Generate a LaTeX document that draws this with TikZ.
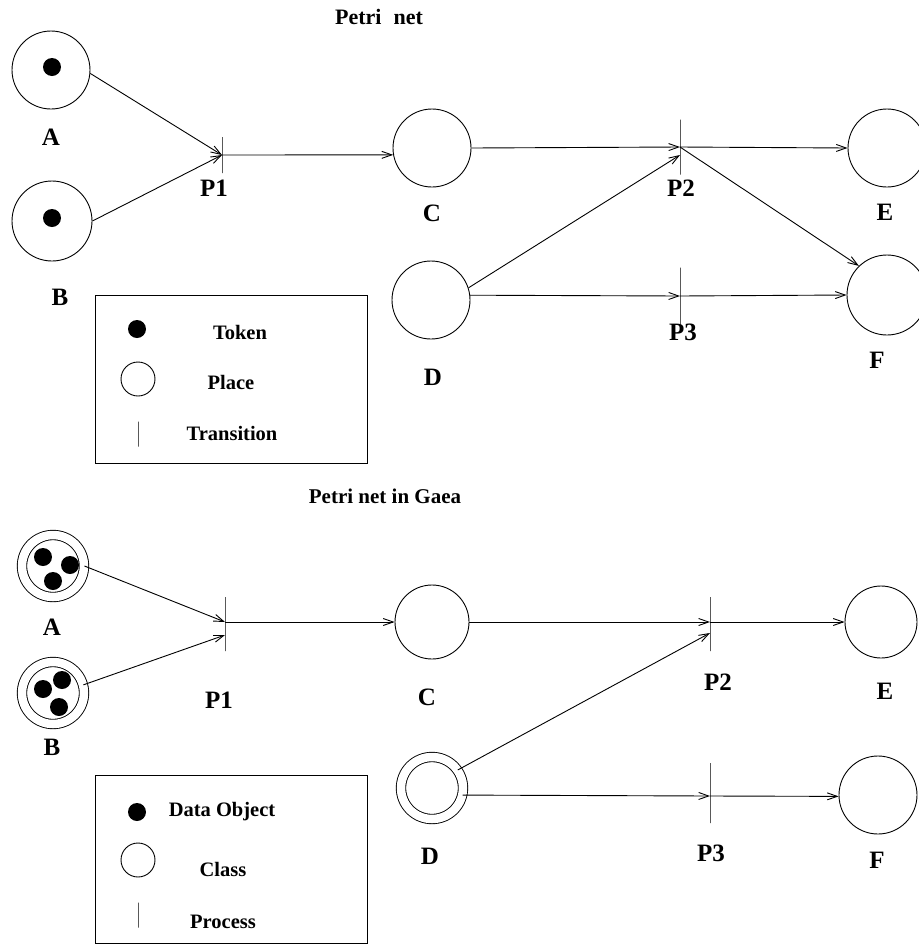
\documentclass[tikz,border=0pt]{standalone}
\usepackage{fontspec}
\setmainfont{Liberation Serif}
\usetikzlibrary{arrows.meta}

\begin{document}
\begin{tikzpicture}[x=1pt,y=-1pt,line width=0.9pt,
    >={Straight Barb[length=10pt,width=7pt]},
    place/.style={draw,circle,inner sep=0pt,minimum size=#1},
    place/.default=78pt,
    class/.style={draw,circle,inner sep=0pt,double,double distance=8.5pt,minimum size=#1},
    class/.default=62pt,
    token/.style={fill,circle,inner sep=0pt,minimum size=18pt},
    trans/.style={draw,inner sep=0pt,minimum width=0pt,minimum height=#1},
    trans/.default=55pt,
    lbl/.style={font=\fontsize{25}{25}\selectfont\bfseries},
    title/.style={font=\fontsize{22}{22}\selectfont\bfseries},
    key/.style={font=\fontsize{20.5}{20.5}\selectfont\bfseries}]
    \useasboundingbox (0,0) rectangle (919,946);

    % Petri net
    \path (379,17) node [title] (hd) {Petri\hspace{12pt}net};
    \path (51,70) node [place] (pa) {};
    \path (52,67) node [token] (ka) {};
    \path (51,137) node [lbl] (la) {A};
    \path (52,221) node [place=80pt] (pb) {};
    \path (52,218) node [token] (kb) {};
    \path (60,297) node [lbl] (lb) {B};
    \path (222,155) node [trans=36pt] (t1) {};
    \path (214,188) node [lbl] (l1) {P1};
    \path (432,148) node [place] (pc) {};
    \path (432,213) node [lbl] (lc) {C};
    \path (680,147) node [trans] (t2) {};
    \path (681,188) node [lbl] (l2) {P2};
    \path (887,148) node [place] (pe) {};
    \path (885,212) node [lbl] (le) {E};
    \path (431,300) node [place] (pd) {};
    \path (433,377) node [lbl] (ld) {D};
    \path (680,296) node [trans=57pt] (t3) {};
    \path (683,332) node [lbl] (l3) {P3};
    \path (887,295) node [place=80pt] (pf) {};
    \path (877,360) node [lbl] (lf) {F};

    \draw [->] (pa.-5) -- (t1.center);
    \draw [->] (pb.east) -- (t1.center);
    \draw [->] (t1.center) -- (pc.190);
    \draw [->] (pc.east) -- (t2.center);
    \draw [->] (t2.center) -- (pe.west);
    \draw [->] (t2.center) -- (pf.134);
    \draw [->] (pd.18) -- ([yshift=-8pt]t2.center);
    \draw [->] (pd.7) -- (t3.center);
    \draw [->] (t3.center) -- (pf.west);

    % key
    \path (231,379) node [draw,minimum width=272pt,minimum height=168pt] (box) {};
    \path (137,329) node [token] (kt) {};
    \path (240,332) node [key] (tk) {Token};
    \path (138,379) node [place=34pt] (kp) {};
    \path (231,382) node [key] (tp) {Place};
    \path (138,434) node [trans=25pt] (kr) {};
    \path (232,433) node [key] (tr) {Transition};

    % Petri net in Gaea
    \path (385,496) node [title,font=\fontsize{21}{21}\selectfont\bfseries] (hd1) {Petri net in Gaea};
    \path (53,566) node [class] (pa1) {};
    \path (43,557) node [token] (ka1) {};
    \path (70,565) node [token] (kb1) {};
    \path (53,581) node [token] (kc1) {};
    \path (52,627) node [lbl] (la1) {A};
    \path (53,693) node [class] (pb1) {};
    \path (43,689) node [token] (kd1) {};
    \path (62,680) node [token] (ke1) {};
    \path (59,707) node [token] (kf1) {};
    \path (52,747) node [lbl] (lb1) {B};
    \path (225,624) node [trans=54pt] (t11) {};
    \path (219,700) node [lbl] (l11) {P1};
    \path (432,622) node [place=74pt] (pc1) {};
    \path (427,697) node [lbl] (lc1) {C};
    \path (710,624) node [trans=54pt] (t21) {};
    \path (718,682) node [lbl] (l21) {P2};
    \path (881,622) node [place=72pt] (pe1) {};
    \path (885,691) node [lbl] (le1) {E};
    \path (432,788) node [class] (pd1) {};
    \path (430,856) node [lbl] (ld1) {D};
    \path (710,793) node [trans=60pt] (t31) {};
    \path (711,853) node [lbl] (l31) {P3};
    \path (878,795) node [place] (pf1) {};
    \path (877,860) node [lbl] (lf1) {F};

    \draw [->] (pa1.east) -- ([yshift=2pt]t11.center);
    \draw [->] (pb1.15) -- ([yshift=-11pt]t11.center);
    \draw [->] ([yshift=2pt]t11.center) -- (pc1.west);
    \draw [->] (pc1.east) -- ([yshift=2pt]t21.center);
    \draw [->] ([yshift=2pt]t21.center) -- (pe1.west);
    \draw [->] (pd1.35) -- ([yshift=-9pt]t21.center);
    \draw [->] (pd1.-13) -- ([yshift=-3pt]t31.center);
    \draw [->] ([yshift=-3pt]t31.center) -- (pf1.182);

    % key
    \path (231,859) node [draw,minimum width=272pt,minimum height=168pt] (box1) {};
    \path (137,812) node [token] (kt1) {};
    \path (222,812) node [key] (tk1) {Data Object};
    \path (138,860) node [place=34pt] (kp1) {};
    \path (223,869) node [key] (tp1) {Class};
    \path (138,915) node [trans=25pt] (kr1) {};
    \path (223,922) node [key] (tr1) {Process};
\end{tikzpicture}
\end{document}
